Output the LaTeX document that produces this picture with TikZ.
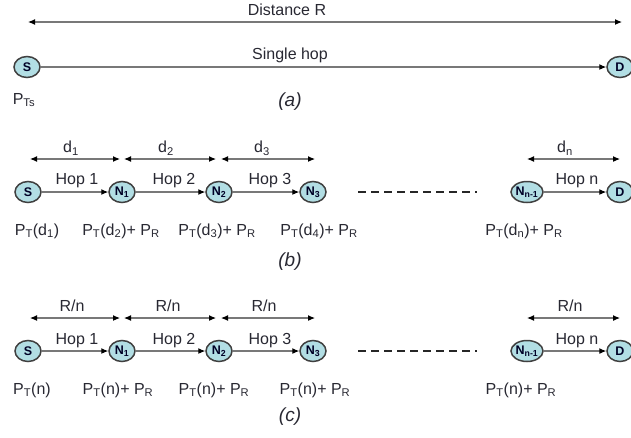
\documentclass[tikz,border=0pt]{standalone}
\usepackage{fontspec}
\setmainfont{Liberation Sans}
\usetikzlibrary{shapes.geometric,arrows.meta}
\definecolor{nodefill}{RGB}{178,222,228}
\definecolor{linegray}{RGB}{120,120,120}
\definecolor{txt}{RGB}{40,40,50}
\tikzset{
  mnode/.style={ellipse, draw=black!75, line width=1.5pt, fill=nodefill, minimum width=26pt, minimum height=21pt, inner sep=0pt, text=black!85!blue, font=\bfseries\fontsize{12.5}{12.5}\selectfont},
  hop/.style={draw=linegray, line width=1.1pt, -{Latex[length=7pt,width=6pt,color=black]}},
  dist/.style={draw=linegray, line width=1.1pt, {Latex[length=7pt,width=6pt,color=black]}-{Latex[length=7pt,width=6pt,color=black]}},
  lbl/.style={text=txt, font=\fontsize{16}{16}\selectfont, inner sep=0pt},
  captxt/.style={text=txt, font=\itshape\fontsize{19}{19}\selectfont, inner sep=0pt},
  dots/.style={draw=black!85, line width=1.2pt, dash pattern=on 8pt off 5pt}
}
\begin{document}
\begin{tikzpicture}[x=1pt,y=-1pt]
\useasboundingbox (0,0) rectangle (631,437);
% ---------- (a)
\coordinate (al) at (28,22);
\coordinate (ar) at (622,22);
\draw[dist] (al) -- (ar);
\node[lbl] (distR) at (287,10) {Distance R};
\node[mnode] (aS) at (27,67) {S};
\node[mnode] (aD) at (620,67) {D};
\draw[hop] (aS) -- (aD);
\node[lbl] (single) at (290,55) {Single hop};
\node[lbl] (pts) at (24,100) {P\textsubscript{Ts}};
\node[captxt] (capa) at (290,102) {(a)};
% ---------- (b)
\node[mnode] (bS) at (28,192) {S};
\node[mnode] (bN1) at (122,192) {N\textsubscript{1}};
\node[mnode] (bN2) at (219,192) {N\textsubscript{2}};
\node[mnode] (bN3) at (313,192) {N\textsubscript{3}};
\node[mnode] (bNn) at (527,192) {N\textsubscript{n-1}};
\node[mnode] (bD) at (620,192) {D};
\draw[hop] (bS) -- (bN1);
\draw[hop] (bN1) -- (bN2);
\draw[hop] (bN2) -- (bN3);
\draw[hop] (bNn) -- (bD);
\coordinate (bdl) at (358,192);
\coordinate (bdr) at (477,192);
\draw[dots] (bdl) -- (bdr);
\node[lbl] (bh1) at (77,181) {Hop 1};
\node[lbl] (bh2) at (174,181) {Hop 2};
\node[lbl] (bh3) at (270,181) {Hop 3};
\node[lbl] (bhn) at (577,181) {Hop n};
\coordinate (b1l) at (30,159); \coordinate (b1r) at (120,159);
\coordinate (b2l) at (124,159); \coordinate (b2r) at (216,159);
\coordinate (b3l) at (221,159); \coordinate (b3r) at (315,159);
\coordinate (bnl) at (527,159); \coordinate (bnr) at (620,159);
\draw[dist] (b1l) -- (b1r);
\draw[dist] (b2l) -- (b2r);
\draw[dist] (b3l) -- (b3r);
\draw[dist] (bnl) -- (bnr);
\node[lbl] (bd1) at (71,148) {d\textsubscript{1}};
\node[lbl] (bd2) at (166,148) {d\textsubscript{2}};
\node[lbl] (bd3) at (262,148) {d\textsubscript{3}};
\node[lbl] (bdn) at (565,148) {d\textsubscript{n}};
\node[lbl] (bp1) at (37,231) {P\textsubscript{T}(d\textsubscript{1})};
\node[lbl] (bp2) at (121,231) {P\textsubscript{T}(d\textsubscript{2})+ P\textsubscript{R}};
\node[lbl] (bp3) at (217,231) {P\textsubscript{T}(d\textsubscript{3})+ P\textsubscript{R}};
\node[lbl] (bp4) at (319,231) {P\textsubscript{T}(d\textsubscript{4})+ P\textsubscript{R}};
\node[lbl] (bpn) at (524,231) {P\textsubscript{T}(d\textsubscript{n})+ P\textsubscript{R}};
\node[captxt] (capb) at (290,262) {(b)};
% ---------- (c)
\node[mnode] (cS) at (28,351) {S};
\node[mnode] (cN1) at (122,351) {N\textsubscript{1}};
\node[mnode] (cN2) at (219,351) {N\textsubscript{2}};
\node[mnode] (cN3) at (313,351) {N\textsubscript{3}};
\node[mnode] (cNn) at (527,351) {N\textsubscript{n-1}};
\node[mnode] (cD) at (620,351) {D};
\draw[hop] (cS) -- (cN1);
\draw[hop] (cN1) -- (cN2);
\draw[hop] (cN2) -- (cN3);
\draw[hop] (cNn) -- (cD);
\coordinate (cdl) at (358,351);
\coordinate (cdr) at (477,351);
\draw[dots] (cdl) -- (cdr);
\node[lbl] (ch1) at (77,341) {Hop 1};
\node[lbl] (ch2) at (174,341) {Hop 2};
\node[lbl] (ch3) at (270,341) {Hop 3};
\node[lbl] (chn) at (577,341) {Hop n};
\coordinate (c1l) at (30,318); \coordinate (c1r) at (120,318);
\coordinate (c2l) at (124,318); \coordinate (c2r) at (216,318);
\coordinate (c3l) at (221,318); \coordinate (c3r) at (315,318);
\coordinate (cnl) at (527,318); \coordinate (cnr) at (620,318);
\draw[dist] (c1l) -- (c1r);
\draw[dist] (c2l) -- (c2r);
\draw[dist] (c3l) -- (c3r);
\draw[dist] (cnl) -- (cnr);
\node[lbl] (cd1) at (72,306) {R/n};
\node[lbl] (cd2) at (168,306) {R/n};
\node[lbl] (cd3) at (264,306) {R/n};
\node[lbl] (cdn) at (570,306) {R/n};
\node[lbl] (cp1) at (32,390) {P\textsubscript{T}(n)};
\node[lbl] (cp2) at (118,390) {P\textsubscript{T}(n)+ P\textsubscript{R}};
\node[lbl] (cp3) at (214,390) {P\textsubscript{T}(n)+ P\textsubscript{R}};
\node[lbl] (cp4) at (315,390) {P\textsubscript{T}(n)+ P\textsubscript{R}};
\node[lbl] (cpn) at (521,390) {P\textsubscript{T}(n)+ P\textsubscript{R}};
\node[captxt] (capc) at (290,417) {(c)};
\end{tikzpicture}
\end{document}
